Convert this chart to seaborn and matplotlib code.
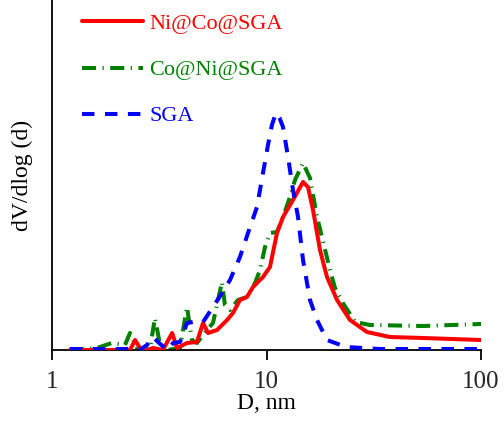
import numpy as np
import pandas as pd
import matplotlib
matplotlib.use("Agg")
import matplotlib.pyplot as plt
import seaborn as sns

# ---- data (D in nm, dV/dlog(d) in arbitrary units) ----
d_ni_co = [1.21, 2.31, 2.44, 2.57, 2.77, 2.96, 3.29, 3.63, 3.83, 4.26, 4.74, 5.06, 5.34,
           5.88, 6.55, 6.98, 7.52, 8.11, 8.65, 9.63, 10.38, 11.19, 11.94, 13.29, 14.80,
           15.61, 16.48, 17.76, 19.14, 21.32, 24.51, 29.4, 37.6, 53.7, 100]
v_ni_co = [0.00, 0.00, 0.10, 0.02, 0.00, 0.02, 0.00, 0.17, 0.02, 0.07, 0.08, 0.27, 0.17,
           0.20, 0.30, 0.37, 0.50, 0.53, 0.63, 0.73, 0.83, 1.17, 1.33, 1.50, 1.68,
           1.63, 1.40, 1.00, 0.73, 0.50, 0.30, 0.18, 0.13, 0.12, 0.10]

d_co_ni = [1.21, 1.62, 1.90, 2.19, 2.31, 2.52, 2.86, 3.02, 3.19, 3.44, 3.95, 4.26, 4.49,
           4.74, 5.28, 5.63, 6.20, 6.40, 6.76, 7.36, 8.11, 8.84, 9.33, 9.84, 10.38, 11.19,
           11.94, 12.87, 13.58, 14.80, 15.95, 17.20, 18.14, 19.77, 20.86, 22.7, 25.9,
           30.4, 53.7, 100]
v_co_ni = [0.00, 0.02, 0.07, 0.05, 0.17, 0.00, 0.01, 0.32, 0.05, 0.00, 0.02, 0.43, 0.10,
           0.07, 0.20, 0.27, 0.68, 0.45, 0.40, 0.50, 0.53, 0.67, 0.80, 1.03, 1.17, 1.18,
           1.33, 1.53, 1.70, 1.87, 1.72, 1.33, 1.13, 0.80, 0.62, 0.47, 0.28,
           0.25, 0.24, 0.26]

d_sga = [1.21, 2.31, 2.57, 2.77, 2.96, 3.12, 3.44, 3.67, 3.95, 4.26, 4.54, 5.06, 5.63,
         6.20, 6.76, 7.52, 8.20, 9.03, 9.63, 10.16, 10.6, 11.07, 11.5, 11.94, 12.60, 13.29,
         14.03, 14.80, 15.95, 17.20, 19.14, 23.5, 33.8, 100]
v_sga = [0.01, 0.01, 0.00, 0.05, 0.13, 0.08, 0.00, 0.07, 0.08, 0.27, 0.28, 0.28, 0.43,
         0.57, 0.70, 0.93, 1.17, 1.43, 1.77, 2.05, 2.25, 2.37, 2.32, 2.23, 1.93, 1.60,
         1.33, 0.90, 0.50, 0.30, 0.10, 0.03, 0.01, 0.01]

labels = ["Ni@Co@SGA", "Co@Ni@SGA", "SGA"]
colors = ["#ff0000", "#008000", "#0000ff"]
x_ticks = [1, 10, 100]
x_tick_labels = ["1", "10", "100"]

sns.set_theme(style="white")
plt.rcParams["font.family"] = ["Liberation Serif", "DejaVu Serif"]

fig = plt.figure(figsize=(5.04, 4.23), dpi=100)
ax = fig.add_axes([52 / 504, 1 - 350 / 423, 429 / 504, 350 / 423])

frames = [
    pd.DataFrame({"D": d_ni_co, "v": v_ni_co}),
    pd.DataFrame({"D": d_co_ni, "v": v_co_ni}),
    pd.DataFrame({"D": d_sga, "v": v_sga}),
]
styles = ["-", (0, (3.5, 1.6, 0.3, 1.6)), (0, (3.1, 2.6))]
zorders = [3, 2, 4]

for df, lab, col, ls, zo in zip(frames, labels, colors, styles, zorders):
    sns.lineplot(data=df, x="D", y="v", ax=ax, color=col, linestyle=ls, lw=2.9,
                 label=lab, sort=False, estimator=None, zorder=zo)

ax.set_xscale("log")
ax.set_xlim(1, 100)
ax.set_ylim(0, 3.5)
ax.set_xticks(x_ticks)
ax.set_xticklabels(x_tick_labels)
ax.xaxis.set_minor_locator(matplotlib.ticker.NullLocator())
ax.set_yticks([])
ax.tick_params(axis="x", direction="out", length=7, width=1.3, color="black",
               labelsize=18, pad=8, bottom=True)
for s in ["top", "right"]:
    ax.spines[s].set_visible(False)
for s in ["left", "bottom"]:
    ax.spines[s].set_color("black")
    ax.spines[s].set_linewidth(1.3)

ax.set_xlabel("D, nm", fontsize=17, labelpad=0, color="black")
ax.set_ylabel("dV/dlog (d)", fontsize=17, labelpad=13.5, color="black")

leg = ax.legend(loc="upper left", bbox_to_anchor=(0.069, 0.961), frameon=False,
                fontsize=16, handlelength=2.75, handletextpad=0.3, labelspacing=1.15,
                borderpad=0, borderaxespad=0, labelcolor="linecolor")

fig.savefig("out.png", dpi=100)
